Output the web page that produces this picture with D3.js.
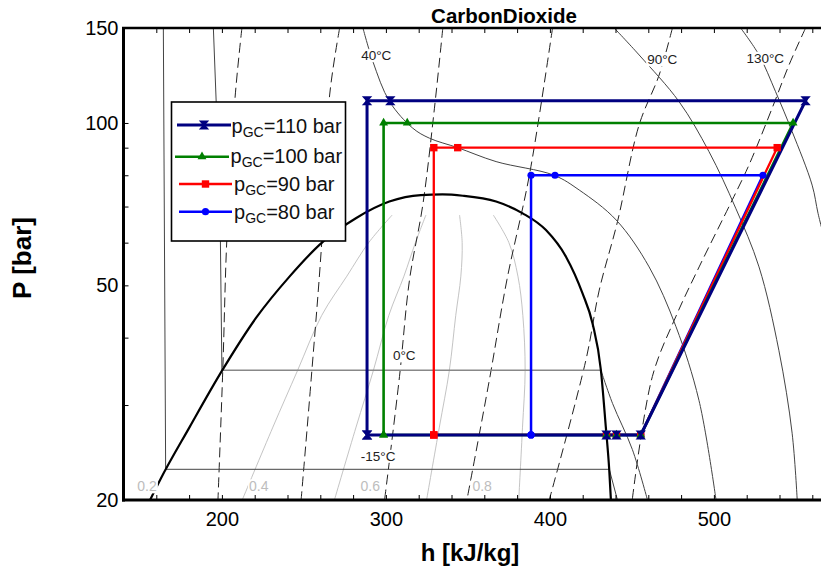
<!DOCTYPE html>
<html><head><meta charset="utf-8">
<script src="https://cdn.jsdelivr.net/npm/d3@7"></script>
<style>
body{margin:0;background:#fff}
svg{display:block;font-family:"Liberation Sans",Arial,sans-serif}
</style>
</head><body>
<svg id="c" width="821" height="570"></svg>
<script>
// ---------- data (h [kJ/kg], P [bar]) ----------
const title = "CarbonDioxide";
const xTickValues = [160,180,200,220,240,260,280,300,320,340,360,380,400,420,440,460,480,500,520,540,560];
const xTickLabels = [200,300,400,500];
const yTickValues = [20,30,40,50,60,70,80,90,100,150];
const yTickLabels = [20,50,100,150];

// saturation dome
const dome = [[156.2,20],[162.7,21.9],[180.3,27.3],[200,34.7],[220.8,43.5],[241.2,51.9],[261.5,60.2],[281.7,66.6],[302.1,71.5],[321.3,73.5],[334.5,73.7],[346.9,73.3],[367.2,71.5],[383.4,68.0],[397.6,63.3],[409.8,56.5],[419.9,48.3],[426.0,42.5],[431.1,34.8],[434.1,27.3],[436.2,22.7],[437.2,20]];

// isotherms
const isoM15 = [[164.3,150],[165.7,22.8],[436.2,22.8],[441.2,20]];
const iso0Liq = [[194.8,150],[198.8,72.0],[200,34.8]];
const iso0Flat = [[200,34.8],[431.1,34.8]];
const iso0Vap = [[431.1,34.8],[438.2,30.2],[450.3,24.8],[459.5,20]];
const iso40 = [[286.0,150],[292.1,129.9],[302.3,109.5],[316.4,97.8],[326.6,93.7],[343.8,90],[367.2,84.8],[402.5,80],[417.9,75.1],[440.4,66.1],[460.5,54.1],[476.9,41.9],[490.9,30.6],[501.3,20]];
const iso90 = [[439.2,150],[454.4,133.7],[478.8,109.5],[497.0,88.5],[513.3,69.5],[527.5,54.1],[539.6,37.9],[547.7,26.6],[550.8,20]];
const iso130 = [[516.3,150],[527.5,133.7],[537.6,114.3],[547.7,96.4],[559.9,76.7],[563.5,68.0],[568,60]];
const isoLabels = ["40°C","90°C","130°C","0°C","-15°C"];
const isoLabelPos = [[294.1,133.3],[468.5,130.9],[531.3,131.8],[311.2,37.0],[295.3,24.1]];

// isentropes (dashed)
const s1 = [[212.2,150],[207.9,110.3],[203.0,60.7],[200.6,35.3],[197.6,20]];
const s2 = [[271.8,150],[265.7,112.7],[260.9,60.2],[254.4,33.4],[248.3,20]];
const s3 = [[334.7,150],[329.6,106.5],[322.5,70.5],[314.4,51.2],[308.3,33.9],[299.2,20]];
const s4 = [[401.6,150],[387.5,80.1],[373.8,51.2],[363.1,33.4],[349.4,20]];
const s5 = [[474.7,150],[466.6,122.7],[454.4,99.2],[441.2,65.6],[430.1,49.0],[422.0,36.4],[399.6,20]];
const s6 = [[555.9,150],[545.8,128.1],[535.5,106.5],[521.4,83.6],[511.2,72.0],[491.0,54.1],[476.7,43.7],[462.5,33.9],[450.2,20]];

// vapour quality lines
const q02 = [[212.4,20],[231.1,27.3],[246.2,34.8],[260.9,44],[276.2,52],[289.5,60],[303.8,67.5]];
const q04 = [[268.6,20],[281.8,27.3],[292.4,34.8],[301.8,44],[311.0,52],[318,60],[324.4,67.5]];
const q06 = [[324.8,20],[332.6,27.3],[338.7,34.8],[342.6,44],[345.7,52],[346.5,60],[344.9,67.5]];
const q08 = [[381.0,20],[383.3,27.3],[384.9,34.8],[383.5,44],[380.5,52],[375,60],[365.5,67.5]];
const qLabels = ["0.2","0.4","0.6","0.8"];
const qLabelPos = [[154.3,21.2],[222.5,21.2],[290.5,21.2],[358.7,21.2]];

// cycles
const seriesNames = ["110 bar","100 bar","90 bar","80 bar"];
const h110 = [288.5,434.5,440.6,455.4,555.9,302.7,288.5,288.5];
const p110 = [26.4,26.4,26.4,26.4,110,110,110,26.4];
const h100 = [298.6,434.5,440.6,455.4,548.3,313.0,298.6,298.6];
const p100 = [26.4,26.4,26.4,26.4,100,100,100,26.4];
const h90  = [329.2,434.5,440.6,455.4,538.6,343.8,329.2,329.2];
const p90  = [26.4,26.4,26.4,26.4,90,90,90,26.4];
const h80  = [388.5,434.5,440.6,455.4,529.9,403.1,388.5,388.5];
const p80  = [26.4,26.4,26.4,26.4,80,80,80,26.4];

// ---------- drawing ----------
const svg = d3.select("#c");
const x = d3.scaleLinear().domain([140,570]).range([123.5,828.7]);
const y = d3.scaleLog().domain([20,150]).range([500,28]);

svg.append("defs").append("clipPath").attr("id","clip")
  .append("rect").attr("x",123).attr("y",28).attr("width",710).attr("height",472);
const plot = svg.append("g").attr("clip-path","url(#clip)");

const smooth = d3.line().x(d=>x(d[0])).y(d=>y(d[1])).curve(d3.curveCatmullRom.alpha(0.5));
const mono = d3.line().x(d=>x(d[0])).y(d=>y(d[1])).curve(d3.curveMonotoneX);
const straight = d3.line().x(d=>x(d[0])).y(d=>y(d[1]));

// quality lines
[q02,q04,q06,q08].forEach(q=>plot.append("path").attr("d",smooth(q)).attr("fill","none").attr("stroke","#c4c4c4").attr("stroke-width",1));
// isentropes
[s1,s2,s3,s4,s5,s6].forEach(s=>plot.append("path").attr("d",smooth(s)).attr("fill","none").attr("stroke","#222").attr("stroke-width",1).attr("stroke-dasharray","10,5"));
// isotherms
plot.append("path").attr("d",straight(isoM15)).attr("fill","none").attr("stroke","#444").attr("stroke-width",1);
plot.append("path").attr("d",straight(iso0Liq)).attr("fill","none").attr("stroke","#444").attr("stroke-width",1);
plot.append("path").attr("d",straight(iso0Flat)).attr("fill","none").attr("stroke","#888").attr("stroke-width",1.6);
plot.append("path").attr("d",smooth(iso0Vap)).attr("fill","none").attr("stroke","#444").attr("stroke-width",1);
[iso40,iso90,iso130].forEach(t=>plot.append("path").attr("d",smooth(t)).attr("fill","none").attr("stroke","#444").attr("stroke-width",1));
// dome
plot.append("path").attr("d",mono(dome)).attr("fill","none").attr("stroke","#000").attr("stroke-width",2.2);

// labels with white background
function bgLabel(g, txt, px, py, size, color){
  const grp = g.append("g");
  const t = grp.append("text").attr("x",px).attr("y",py).attr("text-anchor","middle")
    .attr("dominant-baseline","central").attr("font-size",size).attr("fill",color).text(txt);
  const b = t.node().getBBox();
  grp.insert("rect","text").attr("x",b.x-1).attr("y",b.y+1).attr("width",b.width+2).attr("height",b.height-2).attr("fill","#fff");
}
qLabels.forEach((l,i)=>bgLabel(plot,l,x(qLabelPos[i][0]),y(qLabelPos[i][1]),14,"#bdbdbd"));
isoLabels.forEach((l,i)=>bgLabel(plot,l,x(isoLabelPos[i][0]),y(isoLabelPos[i][1]),13.5,"#222"));

// cycles
const colors = ["#000080","#008000","#ff0000","#0000ff"];
const widths = [3,2.6,2.3,2.5];
const hs = [h110,h100,h90,h80], ps = [p110,p100,p90,p80];
const hourglass = "M-3.2,-3.6H3.2L-3.2,3.6H3.2Z";
function marker(g, i, px, py){
  if(i===0) g.append("path").attr("d",hourglass).attr("transform",`translate(${px},${py})`).attr("fill",colors[0]).attr("stroke",colors[0]).attr("stroke-width",1.8).attr("stroke-linejoin","miter");
  else if(i===1) g.append("path").attr("d",d3.symbol(d3.symbolTriangle,34)()).attr("transform",`translate(${px},${py})`).attr("fill",colors[1]);
  else if(i===2) g.append("rect").attr("x",px-3.7).attr("y",py-3.7).attr("width",7.4).attr("height",7.4).attr("fill",colors[2]);
  else g.append("circle").attr("cx",px).attr("cy",py).attr("r",3.6).attr("fill",colors[3]);
}
const cyc = svg.append("g");
for(let i=3;i>=0;i--){
  const pts = hs[i].map((h,k)=>[h,ps[i][k]]);
  cyc.append("path").attr("d",straight(pts)).attr("fill","none").attr("stroke",colors[i]).attr("stroke-width",widths[i]).attr("stroke-linejoin","miter");
}
for(let i=3;i>=0;i--){
  hs[i].forEach((h,k)=>marker(cyc,i,x(h),y(ps[i][k])));
}

// legend
const leg = svg.append("g");
leg.append("rect").attr("x",171.5).attr("y",102).attr("width",174).attr("height",139).attr("fill","#fff").attr("stroke","#000").attr("stroke-width",1.6);
const legLineY = [125,156.7,184,211.7];
const legLineX = [[177,231],[175,229],[179,232],[179,232]];
const legTextX = [231.5,230.5,234,234];
const legTextY = [133.3,162.7,190.5,218.5];
seriesNames.forEach((n,i)=>{
  leg.append("line").attr("x1",legLineX[i][0]).attr("x2",legLineX[i][1]).attr("y1",legLineY[i]).attr("y2",legLineY[i]).attr("stroke",colors[i]).attr("stroke-width",widths[i]);
  marker(leg,i,(legLineX[i][0]+legLineX[i][1])/2,legLineY[i]);
  const t = leg.append("text").attr("x",legTextX[i]).attr("y",legTextY[i]).attr("font-size",20).attr("fill","#111");
  t.append("tspan").text("p");
  t.append("tspan").attr("font-size",14).attr("dy",4).text("GC");
  t.append("tspan").attr("dy",-4).text("=" + n);
});

// axes
const fmtX = d => xTickLabels.includes(d) ? d : "";
const fmtY = d => yTickLabels.includes(d) ? d : "";
const ax = svg.append("g").attr("transform","translate(0,500)")
  .call(d3.axisBottom(x).tickValues(xTickValues).tickSize(-5).tickPadding(12).tickFormat(fmtX));
const at = svg.append("g").attr("transform","translate(0,28)")
  .call(d3.axisTop(x).tickValues(xTickValues).tickSize(-5).tickFormat(""));
const al = svg.append("g").attr("transform","translate(123.5,0)")
  .call(d3.axisLeft(y).tickValues(yTickValues).tickSize(-5).tickPadding(5).tickFormat(fmtY));
[ax,at,al].forEach(a=>{a.select(".domain").remove(); a.selectAll("text").attr("font-size",20).attr("fill","#000").attr("font-family","Liberation Sans, Arial, sans-serif"); a.selectAll("line").attr("stroke","#000");});

// frame
svg.append("line").attr("x1",123.5).attr("x2",123.5).attr("y1",27).attr("y2",501.5).attr("stroke","#000").attr("stroke-width",3);
svg.append("line").attr("x1",122).attr("x2",830).attr("y1",500).attr("y2",500).attr("stroke","#000").attr("stroke-width",3);
svg.append("line").attr("x1",122).attr("x2",830).attr("y1",28).attr("y2",28).attr("stroke","#000").attr("stroke-width",2.4);

// titles
svg.append("text").attr("x",504).attr("y",23).attr("text-anchor","middle").attr("font-size",20.5).attr("font-weight","bold").text(title);
svg.append("text").attr("x",470).attr("y",561).attr("text-anchor","middle").attr("font-size",24).attr("font-weight","bold").text("h [kJ/kg]");
svg.append("text").attr("transform","translate(31,258) rotate(-90)").attr("text-anchor","middle").attr("font-size",26).attr("font-weight","bold").text("P [bar]");
</script>
</body></html>
